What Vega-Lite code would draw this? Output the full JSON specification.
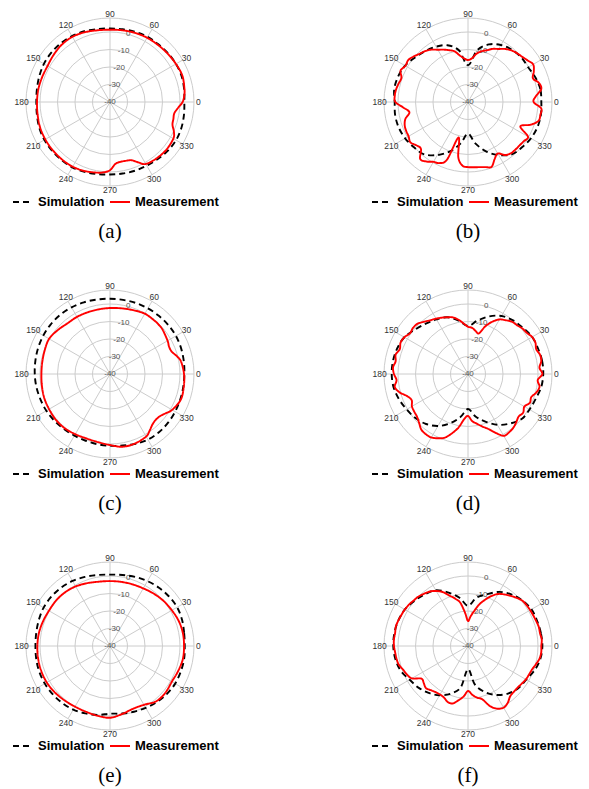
{
"$schema":"https://vega.github.io/schema/vega-lite/v6.json",
"autosize":{"type":"pad"},
"padding":{"left":12,"top":9,"right":2,"bottom":2},
"background":"white",
"config":{
 "view":{"stroke":null},
 "legend":{"labelFont":"Liberation Sans","labelFontSize":13,"labelFontWeight":"bold","labelColor":"#000","symbolType":"stroke","symbolSize":400,"symbolStrokeWidth":2,"columnPadding":1,"labelOffset":4,"padding":0},
 "title":{"orient":"bottom","frame":"group","anchor":"middle","font":"Liberation Serif","fontSize":21,"fontWeight":"normal","color":"#000","offset":12}
},
"datasets":{
 "rings":[{"g":-30},{"g":-20},{"g":-10},{"g":0},{"g":8}],
 "rl":[{"g":-40},{"g":-30},{"g":-20},{"g":-10},{"g":0}],
 "spokes":[{"a":0},{"a":30},{"a":60},{"a":90},{"a":120},{"a":150},{"a":180},{"a":210},{"a":240},{"a":270},{"a":300},{"a":330}],
 "pa":[{"a":0,"S":2.5,"M":1.5},{"a":5,"M":2.6},{"a":10,"S":3,"M":3.2},{"a":20,"S":3.5,"M":4},{"a":30,"S":3.5,"M":3.5},{"a":40,"S":3.3,"M":3},{"a":50,"S":3,"M":2.6},{"a":60,"S":3,"M":2.4},{"a":70,"S":2.6,"M":2},{"a":80,"S":2.2,"M":1.6},{"a":90,"S":2,"M":1.3},{"a":100,"S":2.3,"M":1.6},{"a":110,"S":3,"M":2.4},{"a":120,"S":3.5,"M":3},{"a":130,"S":3.8,"M":2.8},{"a":140,"S":3.8,"M":2},{"a":150,"S":3.6,"M":1.2},{"a":160,"S":3,"M":1.3},{"a":170,"S":2.4,"M":1.6},{"a":180,"S":2.1,"M":1.7},{"a":190,"S":2.4,"M":2},{"a":200,"S":3,"M":2.5},{"a":210,"S":3.3,"M":2.7},{"a":220,"S":3.3,"M":2.8},{"a":230,"S":3.2,"M":2.8},{"a":240,"S":3.1,"M":2.7},{"a":250,"S":2.5,"M":2},{"a":260,"S":1.8,"M":1},{"a":265,"M":0.3},{"a":270,"S":1.4,"M":-1},{"a":275,"M":-4.5},{"a":280,"S":1.5,"M":-5.3},{"a":285,"M":-5.2},{"a":290,"S":1.8,"M":-4.6},{"a":295,"M":-2},{"a":300,"S":2,"M":0.9},{"a":310,"S":2.5,"M":1.8},{"a":320,"S":3.2,"M":2.2},{"a":330,"S":3.6,"M":1.8},{"a":335,"M":0.3},{"a":340,"S":3.4,"M":-2},{"a":345,"M":-2.5},{"a":350,"S":2.9,"M":-2.7},{"a":355,"M":-1}],
 "pb":[{"a":0,"S":1.9,"M":-2.5},{"a":5,"M":-1},{"a":10,"S":2,"M":2.5},{"a":15,"M":2},{"a":20,"S":1,"M":-0.5},{"a":25,"M":1.5},{"a":30,"S":-0.3,"M":3},{"a":35,"M":1.5},{"a":40,"S":-0.3,"M":0.3},{"a":45,"M":-0.5},{"a":50,"S":-1,"M":-1.5},{"a":55,"M":-3},{"a":60,"S":-2.4,"M":-5},{"a":65,"M":-6.5},{"a":70,"S":-5,"M":-8.5},{"a":75,"M":-10},{"a":80,"S":-10,"M":-12},{"a":85,"M":-15},{"a":90,"S":-19,"M":-16},{"a":95,"M":-15},{"a":100,"S":-10,"M":-13},{"a":105,"M":-10},{"a":110,"S":-5.5,"M":-8.5},{"a":115,"M":-7},{"a":120,"S":-3.5,"M":-5.5},{"a":125,"M":-3.5},{"a":130,"S":-2,"M":-2},{"a":135,"M":-1},{"a":140,"S":-0.5,"M":0.5},{"a":145,"M":1.7},{"a":150,"S":1.5,"M":1.3},{"a":155,"M":2.5},{"a":160,"S":2.5,"M":0.5},{"a":165,"M":1},{"a":170,"S":2.8,"M":1.7},{"a":175,"M":2},{"a":180,"S":1.9,"M":1.5},{"a":185,"M":-3},{"a":190,"S":2.3,"M":-6},{"a":195,"M":-3},{"a":200,"S":2.2,"M":-1.5},{"a":205,"M":-1},{"a":210,"S":1.5,"M":-0.8},{"a":215,"M":0.2},{"a":220,"S":0.3,"M":-1.5},{"a":225,"M":-2},{"a":230,"S":-1,"M":2.5},{"a":235,"M":1.5},{"a":240,"S":-5,"M":-0.5},{"a":245,"M":-1.5},{"a":250,"S":-10,"M":-5},{"a":255,"M":-19},{"a":260,"S":-16,"M":-8},{"a":265,"M":-3.5},{"a":270,"S":-22,"M":-2.8},{"a":275,"M":-2.6},{"a":280,"S":-16,"M":-2.2},{"a":285,"M":-1.5},{"a":290,"S":-10,"M":-0.6},{"a":295,"M":-4},{"a":300,"S":-5,"M":-6},{"a":305,"M":-3},{"a":310,"S":-1,"M":-1.8},{"a":315,"M":-1.6},{"a":320,"S":0.3,"M":-1.5},{"a":325,"M":-1},{"a":330,"S":1.5,"M":-0.4},{"a":335,"M":-7},{"a":340,"S":2.2,"M":-2},{"a":345,"M":1.7},{"a":350,"S":2.3,"M":2},{"a":355,"M":2}],
 "pc":[{"a":0,"S":2.5,"M":2.3},{"a":10,"S":2.8,"M":1.2},{"a":15,"M":-0.5},{"a":20,"S":3.2,"M":-2.5},{"a":25,"M":-2.8},{"a":30,"S":3.5,"M":-2},{"a":40,"S":3.5,"M":-0.7},{"a":45,"M":-0.4},{"a":50,"S":3.4,"M":-0.3},{"a":60,"S":3.3,"M":-0.2},{"a":70,"S":3.2,"M":-1.2},{"a":80,"S":3,"M":-1.9},{"a":90,"S":3,"M":-2.3},{"a":100,"S":3.2,"M":-2.5},{"a":110,"S":3.6,"M":-2.5},{"a":120,"S":4,"M":-2.3},{"a":130,"S":4.2,"M":-2.2},{"a":140,"S":4.2,"M":-1},{"a":150,"S":4,"M":0.2},{"a":160,"S":3.7,"M":-0.3},{"a":170,"S":3.3,"M":-0.7},{"a":180,"S":3,"M":-0.8},{"a":190,"S":2.7,"M":-0.5},{"a":200,"S":2.3,"M":0},{"a":210,"S":2,"M":0.2},{"a":220,"S":1.5,"M":0.5},{"a":230,"S":1,"M":0.4},{"a":240,"S":0.7,"M":-0.3},{"a":250,"S":0.6,"M":-0.8},{"a":260,"S":0.8,"M":-0.5},{"a":270,"S":1,"M":0.6},{"a":280,"S":1.5,"M":2.2},{"a":290,"S":2.5,"M":2.2},{"a":300,"S":3.3,"M":1.3},{"a":305,"M":-0.5},{"a":310,"S":3.5,"M":-2.3},{"a":315,"M":-3},{"a":320,"S":3.3,"M":-2.6},{"a":325,"M":-1},{"a":330,"S":3,"M":1},{"a":340,"S":2.7,"M":3},{"a":350,"S":2.5,"M":2.8}],
 "pd":[{"a":0,"S":3,"M":2.5},{"a":5,"M":1},{"a":10,"S":3,"M":2.5},{"a":15,"M":2.6},{"a":20,"S":2.6,"M":1.5},{"a":25,"M":2.5},{"a":30,"S":2.3,"M":2.3},{"a":35,"M":1},{"a":40,"S":1,"M":0.5},{"a":45,"M":-0.5},{"a":50,"S":0,"M":-1},{"a":55,"M":-2.5},{"a":60,"S":-1.7,"M":-4},{"a":65,"M":-7},{"a":70,"S":-5,"M":-11},{"a":75,"M":-16},{"a":80,"S":-9,"M":-15},{"a":85,"M":-13.5},{"a":90,"S":-12.5,"M":-13},{"a":95,"M":-11},{"a":100,"S":-9,"M":-8.5},{"a":105,"M":-6.5},{"a":110,"S":-5.5,"M":-5.5},{"a":115,"M":-4.5},{"a":120,"S":-4,"M":-3.5},{"a":125,"M":-2.5},{"a":130,"S":-2.5,"M":-1},{"a":135,"M":0.7},{"a":140,"S":-0.5,"M":1},{"a":145,"M":0.5},{"a":150,"S":2,"M":2},{"a":155,"M":2.5},{"a":160,"S":3,"M":1.5},{"a":165,"M":2.8},{"a":170,"S":3.5,"M":2},{"a":175,"M":3},{"a":180,"S":3.6,"M":2.3},{"a":185,"M":1},{"a":190,"S":3.2,"M":2.5},{"a":195,"M":0.5},{"a":200,"S":2,"M":-3},{"a":205,"M":-4.5},{"a":210,"S":0.5,"M":-3},{"a":215,"M":-2.5},{"a":220,"S":-0.8,"M":-2},{"a":225,"M":-0.5},{"a":230,"S":-2.7,"M":1.5},{"a":235,"M":2},{"a":240,"S":-5.7,"M":1.9},{"a":245,"M":0.5},{"a":250,"S":-10,"M":-1.3},{"a":255,"M":-5},{"a":260,"S":-15,"M":-9},{"a":265,"M":-14},{"a":270,"S":-20,"M":-16},{"a":275,"M":-13},{"a":280,"S":-15.4,"M":-11.2},{"a":285,"M":-9},{"a":290,"S":-11,"M":-6.7},{"a":295,"M":-3},{"a":300,"S":-6.5,"M":0.8},{"a":305,"M":0.8},{"a":310,"S":-3,"M":0.2},{"a":315,"M":-1},{"a":320,"S":0,"M":-2.2},{"a":325,"M":-1.5},{"a":330,"S":0.6,"M":-2.8},{"a":335,"M":-1},{"a":340,"S":1.2,"M":-1.5},{"a":345,"M":0.5},{"a":350,"S":2.5,"M":1.5},{"a":355,"M":0}],
 "pe":[{"a":0,"S":2.7,"M":2.3},{"a":10,"S":3,"M":2.3},{"a":20,"S":3.8,"M":1.8},{"a":30,"S":4.3,"M":0.8},{"a":40,"S":4,"M":0},{"a":50,"S":3.5,"M":-1},{"a":60,"S":2.8,"M":-2},{"a":70,"S":2,"M":-2.5},{"a":80,"S":1.2,"M":-2.8},{"a":90,"S":0.8,"M":-2.9},{"a":100,"S":1.2,"M":-2.7},{"a":110,"S":2,"M":-1.8},{"a":120,"S":2.9,"M":-0.7},{"a":130,"S":3.5,"M":0},{"a":140,"S":3.8,"M":0.3},{"a":150,"S":3.8,"M":0.3},{"a":160,"S":3.3,"M":0.8},{"a":170,"S":2.8,"M":1.3},{"a":180,"S":2.6,"M":1.5},{"a":190,"S":2.8,"M":1.7},{"a":200,"S":3,"M":1.8},{"a":210,"S":3,"M":1.7},{"a":220,"S":2.8,"M":1.2},{"a":230,"S":2.5,"M":0.5},{"a":240,"S":2,"M":0},{"a":250,"S":1,"M":0},{"a":260,"S":0,"M":0.5},{"a":270,"S":-1.3,"M":1},{"a":280,"S":-0.8,"M":-0.5},{"a":290,"S":0,"M":-1.8},{"a":300,"S":0.8,"M":-1.2},{"a":310,"S":1.8,"M":1.2},{"a":320,"S":2.5,"M":1.4},{"a":330,"S":3,"M":0.8},{"a":340,"S":3,"M":1.5},{"a":350,"S":3,"M":2.3}],
 "pf":[{"a":0,"S":2.5,"M":1.9},{"a":5,"M":2.3},{"a":10,"S":2.3,"M":1.8},{"a":15,"M":1.9},{"a":20,"S":2,"M":1.5},{"a":25,"M":1.2},{"a":30,"S":1.9,"M":1},{"a":35,"M":0.8},{"a":40,"S":0.5,"M":0.4},{"a":45,"M":-1},{"a":50,"S":-1.5,"M":-2.5},{"a":55,"M":-4},{"a":60,"S":-4.3,"M":-5.7},{"a":65,"M":-8.5},{"a":70,"S":-8.5,"M":-12},{"a":75,"M":-15.5},{"a":80,"S":-12,"M":-19.7},{"a":85,"M":-23},{"a":90,"S":-17,"M":-25.7},{"a":95,"M":-21},{"a":100,"S":-12,"M":-15},{"a":105,"M":-12},{"a":110,"S":-7.5,"M":-9.4},{"a":115,"M":-6},{"a":120,"S":-3.2,"M":-3.7},{"a":125,"M":-2},{"a":130,"S":-1.5,"M":-1},{"a":135,"M":0},{"a":140,"S":0,"M":0.5},{"a":145,"M":1.2},{"a":150,"S":1.7,"M":1.7},{"a":155,"M":2},{"a":160,"S":2.4,"M":2.4},{"a":165,"M":2.7},{"a":170,"S":2.7,"M":2.3},{"a":175,"M":2.5},{"a":180,"S":2.7,"M":2.3},{"a":185,"M":1.8},{"a":190,"S":2.2,"M":1.5},{"a":195,"M":1},{"a":200,"S":1,"M":-0.5},{"a":205,"M":-1.5},{"a":210,"S":-1.5,"M":-3},{"a":215,"M":-7.5},{"a":220,"S":-3,"M":-7},{"a":225,"M":-6},{"a":230,"S":-5,"M":-7},{"a":235,"M":-7.8},{"a":240,"S":-7.5,"M":-8},{"a":245,"M":-7.5},{"a":250,"S":-11,"M":-6},{"a":255,"M":-6},{"a":260,"S":-16,"M":-8.5},{"a":265,"M":-11},{"a":270,"S":-26.7,"M":-14.3},{"a":275,"M":-12},{"a":280,"S":-17.7,"M":-10},{"a":285,"M":-8.5},{"a":290,"S":-12,"M":-3.5},{"a":295,"M":-0.5},{"a":300,"S":-7.7,"M":0.7},{"a":305,"M":-0.4},{"a":310,"S":-4.5,"M":-2.5},{"a":315,"M":-3},{"a":320,"S":-2.5,"M":-3},{"a":325,"M":-2.5},{"a":330,"S":-1.6,"M":-1.8},{"a":335,"M":-1.5},{"a":340,"S":0.5,"M":-1},{"a":345,"M":0.2},{"a":350,"S":2,"M":1.5},{"a":355,"M":2}]
},
"columns":2,
"spacing":{"row":104,"column":190},
"bounds":"flush",
"resolve":{"scale":{"x":"independent","y":"independent","size":"independent","color":"independent","strokeDash":"independent"},"legend":{"color":"independent","strokeDash":"independent"}},
"concat":[
 {"width":168,"height":168,"title":{"text":"(a)"},"layer":[
  {"data":{"name":"rings"},"transform":[{"calculate":"datum.g+40","as":"rr"},{"calculate":"0","as":"z"}],"mark":{"type":"point","shape":"circle","filled":false,"color":"#cccccc","opacity":1,"strokeWidth":1},"encoding":{"x":{"field":"z","type":"quantitative","scale":{"domain":[-48,48],"nice":false},"axis":null},"y":{"field":"z","type":"quantitative","scale":{"domain":[-48,48],"nice":false},"axis":null},"size":{"field":"rr","type":"quantitative","scale":{"type":"pow","exponent":2,"domain":[0,48],"range":[0,28224]},"legend":null}}},
  {"data":{"name":"spokes"},"transform":[{"calculate":"48*cos(datum.a*PI/180)","as":"ex"},{"calculate":"48*sin(datum.a*PI/180)","as":"ey"},{"calculate":"0","as":"z"}],"mark":{"type":"rule","color":"#cccccc","strokeWidth":1},"encoding":{"x":{"field":"z","type":"quantitative","scale":{"domain":[-48,48],"nice":false},"axis":null},"y":{"field":"z","type":"quantitative","scale":{"domain":[-48,48],"nice":false},"axis":null},"x2":{"field":"ex"},"y2":{"field":"ey"}}},
  {"data":{"name":"spokes"},"transform":[{"calculate":"50.5*cos(datum.a*PI/180)","as":"lx"},{"calculate":"50.5*sin(datum.a*PI/180)","as":"ly"}],"mark":{"type":"text","font":"Liberation Sans","fontSize":8.5,"color":"#333"},"encoding":{"x":{"field":"lx","type":"quantitative","scale":{"domain":[-48,48],"nice":false},"axis":null},"y":{"field":"ly","type":"quantitative","scale":{"domain":[-48,48],"nice":false},"axis":null},"text":{"field":"a","type":"nominal"}}},
  {"data":{"name":"rl"},"transform":[{"calculate":"(datum.g+40)*cos(75*PI/180)","as":"px"},{"calculate":"(datum.g+40)*sin(75*PI/180)","as":"py"}],"mark":{"type":"text","font":"Liberation Sans","fontSize":8,"color":"#555"},"encoding":{"x":{"field":"px","type":"quantitative","scale":{"domain":[-48,48],"nice":false},"axis":null},"y":{"field":"py","type":"quantitative","scale":{"domain":[-48,48],"nice":false},"axis":null},"text":{"field":"g","type":"nominal"}}},
  {"data":{"name":"pa"},"transform":[{"fold":["S","M"],"as":["s","r"]},{"filter":"isValid(datum.r)"},{"calculate":"(datum.r+40)*cos(datum.a*PI/180)","as":"x"},{"calculate":"(datum.r+40)*sin(datum.a*PI/180)","as":"y"}],"mark":{"type":"line","interpolate":"cardinal-closed","strokeWidth":1.9},"encoding":{"x":{"field":"x","type":"quantitative","scale":{"domain":[-48,48],"nice":false},"axis":null},"y":{"field":"y","type":"quantitative","scale":{"domain":[-48,48],"nice":false},"axis":null},"order":{"field":"a","type":"quantitative"},"color":{"field":"s","type":"nominal","scale":{"domain":["S","M"],"range":["#000000","#ff0000"]},"legend":{"title":null,"orient":"none","legendX":-14,"legendY":173,"direction":"horizontal","labelExpr":"datum.label=='S'?'Simulation':'Measurement'"}},"strokeDash":{"field":"s","type":"nominal","scale":{"domain":["S","M"],"range":[[6,4],[1,0]]},"legend":{"title":null,"orient":"none","legendX":-14,"legendY":173,"direction":"horizontal","labelExpr":"datum.label=='S'?'Simulation':'Measurement'"}}}}
 ]},
 {"width":168,"height":168,"title":{"text":"(b)"},"layer":[
  {"data":{"name":"rings"},"transform":[{"calculate":"datum.g+40","as":"rr"},{"calculate":"0","as":"z"}],"mark":{"type":"point","shape":"circle","filled":false,"color":"#cccccc","opacity":1,"strokeWidth":1},"encoding":{"x":{"field":"z","type":"quantitative","scale":{"domain":[-48,48],"nice":false},"axis":null},"y":{"field":"z","type":"quantitative","scale":{"domain":[-48,48],"nice":false},"axis":null},"size":{"field":"rr","type":"quantitative","scale":{"type":"pow","exponent":2,"domain":[0,48],"range":[0,28224]},"legend":null}}},
  {"data":{"name":"spokes"},"transform":[{"calculate":"48*cos(datum.a*PI/180)","as":"ex"},{"calculate":"48*sin(datum.a*PI/180)","as":"ey"},{"calculate":"0","as":"z"}],"mark":{"type":"rule","color":"#cccccc","strokeWidth":1},"encoding":{"x":{"field":"z","type":"quantitative","scale":{"domain":[-48,48],"nice":false},"axis":null},"y":{"field":"z","type":"quantitative","scale":{"domain":[-48,48],"nice":false},"axis":null},"x2":{"field":"ex"},"y2":{"field":"ey"}}},
  {"data":{"name":"spokes"},"transform":[{"calculate":"50.5*cos(datum.a*PI/180)","as":"lx"},{"calculate":"50.5*sin(datum.a*PI/180)","as":"ly"}],"mark":{"type":"text","font":"Liberation Sans","fontSize":8.5,"color":"#333"},"encoding":{"x":{"field":"lx","type":"quantitative","scale":{"domain":[-48,48],"nice":false},"axis":null},"y":{"field":"ly","type":"quantitative","scale":{"domain":[-48,48],"nice":false},"axis":null},"text":{"field":"a","type":"nominal"}}},
  {"data":{"name":"rl"},"transform":[{"calculate":"(datum.g+40)*cos(75*PI/180)","as":"px"},{"calculate":"(datum.g+40)*sin(75*PI/180)","as":"py"}],"mark":{"type":"text","font":"Liberation Sans","fontSize":8,"color":"#555"},"encoding":{"x":{"field":"px","type":"quantitative","scale":{"domain":[-48,48],"nice":false},"axis":null},"y":{"field":"py","type":"quantitative","scale":{"domain":[-48,48],"nice":false},"axis":null},"text":{"field":"g","type":"nominal"}}},
  {"data":{"name":"pb"},"transform":[{"fold":["S","M"],"as":["s","r"]},{"filter":"isValid(datum.r)"},{"calculate":"(datum.r+40)*cos(datum.a*PI/180)","as":"x"},{"calculate":"(datum.r+40)*sin(datum.a*PI/180)","as":"y"}],"mark":{"type":"line","interpolate":"cardinal-closed","strokeWidth":1.9},"encoding":{"x":{"field":"x","type":"quantitative","scale":{"domain":[-48,48],"nice":false},"axis":null},"y":{"field":"y","type":"quantitative","scale":{"domain":[-48,48],"nice":false},"axis":null},"order":{"field":"a","type":"quantitative"},"color":{"field":"s","type":"nominal","scale":{"domain":["S","M"],"range":["#000000","#ff0000"]},"legend":{"title":null,"orient":"none","legendX":-13,"legendY":173,"direction":"horizontal","labelExpr":"datum.label=='S'?'Simulation':'Measurement'"}},"strokeDash":{"field":"s","type":"nominal","scale":{"domain":["S","M"],"range":[[6,4],[1,0]]},"legend":{"title":null,"orient":"none","legendX":-13,"legendY":173,"direction":"horizontal","labelExpr":"datum.label=='S'?'Simulation':'Measurement'"}}}}
 ]},
 {"width":168,"height":168,"title":{"text":"(c)"},"layer":[
  {"data":{"name":"rings"},"transform":[{"calculate":"datum.g+40","as":"rr"},{"calculate":"0","as":"z"}],"mark":{"type":"point","shape":"circle","filled":false,"color":"#cccccc","opacity":1,"strokeWidth":1},"encoding":{"x":{"field":"z","type":"quantitative","scale":{"domain":[-48,48],"nice":false},"axis":null},"y":{"field":"z","type":"quantitative","scale":{"domain":[-48,48],"nice":false},"axis":null},"size":{"field":"rr","type":"quantitative","scale":{"type":"pow","exponent":2,"domain":[0,48],"range":[0,28224]},"legend":null}}},
  {"data":{"name":"spokes"},"transform":[{"calculate":"48*cos(datum.a*PI/180)","as":"ex"},{"calculate":"48*sin(datum.a*PI/180)","as":"ey"},{"calculate":"0","as":"z"}],"mark":{"type":"rule","color":"#cccccc","strokeWidth":1},"encoding":{"x":{"field":"z","type":"quantitative","scale":{"domain":[-48,48],"nice":false},"axis":null},"y":{"field":"z","type":"quantitative","scale":{"domain":[-48,48],"nice":false},"axis":null},"x2":{"field":"ex"},"y2":{"field":"ey"}}},
  {"data":{"name":"spokes"},"transform":[{"calculate":"50.5*cos(datum.a*PI/180)","as":"lx"},{"calculate":"50.5*sin(datum.a*PI/180)","as":"ly"}],"mark":{"type":"text","font":"Liberation Sans","fontSize":8.5,"color":"#333"},"encoding":{"x":{"field":"lx","type":"quantitative","scale":{"domain":[-48,48],"nice":false},"axis":null},"y":{"field":"ly","type":"quantitative","scale":{"domain":[-48,48],"nice":false},"axis":null},"text":{"field":"a","type":"nominal"}}},
  {"data":{"name":"rl"},"transform":[{"calculate":"(datum.g+40)*cos(75*PI/180)","as":"px"},{"calculate":"(datum.g+40)*sin(75*PI/180)","as":"py"}],"mark":{"type":"text","font":"Liberation Sans","fontSize":8,"color":"#555"},"encoding":{"x":{"field":"px","type":"quantitative","scale":{"domain":[-48,48],"nice":false},"axis":null},"y":{"field":"py","type":"quantitative","scale":{"domain":[-48,48],"nice":false},"axis":null},"text":{"field":"g","type":"nominal"}}},
  {"data":{"name":"pc"},"transform":[{"fold":["S","M"],"as":["s","r"]},{"filter":"isValid(datum.r)"},{"calculate":"(datum.r+40)*cos(datum.a*PI/180)","as":"x"},{"calculate":"(datum.r+40)*sin(datum.a*PI/180)","as":"y"}],"mark":{"type":"line","interpolate":"cardinal-closed","strokeWidth":1.9},"encoding":{"x":{"field":"x","type":"quantitative","scale":{"domain":[-48,48],"nice":false},"axis":null},"y":{"field":"y","type":"quantitative","scale":{"domain":[-48,48],"nice":false},"axis":null},"order":{"field":"a","type":"quantitative"},"color":{"field":"s","type":"nominal","scale":{"domain":["S","M"],"range":["#000000","#ff0000"]},"legend":{"title":null,"orient":"none","legendX":-14,"legendY":173,"direction":"horizontal","labelExpr":"datum.label=='S'?'Simulation':'Measurement'"}},"strokeDash":{"field":"s","type":"nominal","scale":{"domain":["S","M"],"range":[[6,4],[1,0]]},"legend":{"title":null,"orient":"none","legendX":-14,"legendY":173,"direction":"horizontal","labelExpr":"datum.label=='S'?'Simulation':'Measurement'"}}}}
 ]},
 {"width":168,"height":168,"title":{"text":"(d)"},"layer":[
  {"data":{"name":"rings"},"transform":[{"calculate":"datum.g+40","as":"rr"},{"calculate":"0","as":"z"}],"mark":{"type":"point","shape":"circle","filled":false,"color":"#cccccc","opacity":1,"strokeWidth":1},"encoding":{"x":{"field":"z","type":"quantitative","scale":{"domain":[-48,48],"nice":false},"axis":null},"y":{"field":"z","type":"quantitative","scale":{"domain":[-48,48],"nice":false},"axis":null},"size":{"field":"rr","type":"quantitative","scale":{"type":"pow","exponent":2,"domain":[0,48],"range":[0,28224]},"legend":null}}},
  {"data":{"name":"spokes"},"transform":[{"calculate":"48*cos(datum.a*PI/180)","as":"ex"},{"calculate":"48*sin(datum.a*PI/180)","as":"ey"},{"calculate":"0","as":"z"}],"mark":{"type":"rule","color":"#cccccc","strokeWidth":1},"encoding":{"x":{"field":"z","type":"quantitative","scale":{"domain":[-48,48],"nice":false},"axis":null},"y":{"field":"z","type":"quantitative","scale":{"domain":[-48,48],"nice":false},"axis":null},"x2":{"field":"ex"},"y2":{"field":"ey"}}},
  {"data":{"name":"spokes"},"transform":[{"calculate":"50.5*cos(datum.a*PI/180)","as":"lx"},{"calculate":"50.5*sin(datum.a*PI/180)","as":"ly"}],"mark":{"type":"text","font":"Liberation Sans","fontSize":8.5,"color":"#333"},"encoding":{"x":{"field":"lx","type":"quantitative","scale":{"domain":[-48,48],"nice":false},"axis":null},"y":{"field":"ly","type":"quantitative","scale":{"domain":[-48,48],"nice":false},"axis":null},"text":{"field":"a","type":"nominal"}}},
  {"data":{"name":"rl"},"transform":[{"calculate":"(datum.g+40)*cos(75*PI/180)","as":"px"},{"calculate":"(datum.g+40)*sin(75*PI/180)","as":"py"}],"mark":{"type":"text","font":"Liberation Sans","fontSize":8,"color":"#555"},"encoding":{"x":{"field":"px","type":"quantitative","scale":{"domain":[-48,48],"nice":false},"axis":null},"y":{"field":"py","type":"quantitative","scale":{"domain":[-48,48],"nice":false},"axis":null},"text":{"field":"g","type":"nominal"}}},
  {"data":{"name":"pd"},"transform":[{"fold":["S","M"],"as":["s","r"]},{"filter":"isValid(datum.r)"},{"calculate":"(datum.r+40)*cos(datum.a*PI/180)","as":"x"},{"calculate":"(datum.r+40)*sin(datum.a*PI/180)","as":"y"}],"mark":{"type":"line","interpolate":"cardinal-closed","strokeWidth":1.9},"encoding":{"x":{"field":"x","type":"quantitative","scale":{"domain":[-48,48],"nice":false},"axis":null},"y":{"field":"y","type":"quantitative","scale":{"domain":[-48,48],"nice":false},"axis":null},"order":{"field":"a","type":"quantitative"},"color":{"field":"s","type":"nominal","scale":{"domain":["S","M"],"range":["#000000","#ff0000"]},"legend":{"title":null,"orient":"none","legendX":-13,"legendY":173,"direction":"horizontal","labelExpr":"datum.label=='S'?'Simulation':'Measurement'"}},"strokeDash":{"field":"s","type":"nominal","scale":{"domain":["S","M"],"range":[[6,4],[1,0]]},"legend":{"title":null,"orient":"none","legendX":-13,"legendY":173,"direction":"horizontal","labelExpr":"datum.label=='S'?'Simulation':'Measurement'"}}}}
 ]},
 {"width":168,"height":168,"title":{"text":"(e)"},"layer":[
  {"data":{"name":"rings"},"transform":[{"calculate":"datum.g+40","as":"rr"},{"calculate":"0","as":"z"}],"mark":{"type":"point","shape":"circle","filled":false,"color":"#cccccc","opacity":1,"strokeWidth":1},"encoding":{"x":{"field":"z","type":"quantitative","scale":{"domain":[-48,48],"nice":false},"axis":null},"y":{"field":"z","type":"quantitative","scale":{"domain":[-48,48],"nice":false},"axis":null},"size":{"field":"rr","type":"quantitative","scale":{"type":"pow","exponent":2,"domain":[0,48],"range":[0,28224]},"legend":null}}},
  {"data":{"name":"spokes"},"transform":[{"calculate":"48*cos(datum.a*PI/180)","as":"ex"},{"calculate":"48*sin(datum.a*PI/180)","as":"ey"},{"calculate":"0","as":"z"}],"mark":{"type":"rule","color":"#cccccc","strokeWidth":1},"encoding":{"x":{"field":"z","type":"quantitative","scale":{"domain":[-48,48],"nice":false},"axis":null},"y":{"field":"z","type":"quantitative","scale":{"domain":[-48,48],"nice":false},"axis":null},"x2":{"field":"ex"},"y2":{"field":"ey"}}},
  {"data":{"name":"spokes"},"transform":[{"calculate":"50.5*cos(datum.a*PI/180)","as":"lx"},{"calculate":"50.5*sin(datum.a*PI/180)","as":"ly"}],"mark":{"type":"text","font":"Liberation Sans","fontSize":8.5,"color":"#333"},"encoding":{"x":{"field":"lx","type":"quantitative","scale":{"domain":[-48,48],"nice":false},"axis":null},"y":{"field":"ly","type":"quantitative","scale":{"domain":[-48,48],"nice":false},"axis":null},"text":{"field":"a","type":"nominal"}}},
  {"data":{"name":"rl"},"transform":[{"calculate":"(datum.g+40)*cos(75*PI/180)","as":"px"},{"calculate":"(datum.g+40)*sin(75*PI/180)","as":"py"}],"mark":{"type":"text","font":"Liberation Sans","fontSize":8,"color":"#555"},"encoding":{"x":{"field":"px","type":"quantitative","scale":{"domain":[-48,48],"nice":false},"axis":null},"y":{"field":"py","type":"quantitative","scale":{"domain":[-48,48],"nice":false},"axis":null},"text":{"field":"g","type":"nominal"}}},
  {"data":{"name":"pe"},"transform":[{"fold":["S","M"],"as":["s","r"]},{"filter":"isValid(datum.r)"},{"calculate":"(datum.r+40)*cos(datum.a*PI/180)","as":"x"},{"calculate":"(datum.r+40)*sin(datum.a*PI/180)","as":"y"}],"mark":{"type":"line","interpolate":"cardinal-closed","strokeWidth":1.9},"encoding":{"x":{"field":"x","type":"quantitative","scale":{"domain":[-48,48],"nice":false},"axis":null},"y":{"field":"y","type":"quantitative","scale":{"domain":[-48,48],"nice":false},"axis":null},"order":{"field":"a","type":"quantitative"},"color":{"field":"s","type":"nominal","scale":{"domain":["S","M"],"range":["#000000","#ff0000"]},"legend":{"title":null,"orient":"none","legendX":-14,"legendY":173,"direction":"horizontal","labelExpr":"datum.label=='S'?'Simulation':'Measurement'"}},"strokeDash":{"field":"s","type":"nominal","scale":{"domain":["S","M"],"range":[[6,4],[1,0]]},"legend":{"title":null,"orient":"none","legendX":-14,"legendY":173,"direction":"horizontal","labelExpr":"datum.label=='S'?'Simulation':'Measurement'"}}}}
 ]},
 {"width":168,"height":168,"title":{"text":"(f)"},"layer":[
  {"data":{"name":"rings"},"transform":[{"calculate":"datum.g+40","as":"rr"},{"calculate":"0","as":"z"}],"mark":{"type":"point","shape":"circle","filled":false,"color":"#cccccc","opacity":1,"strokeWidth":1},"encoding":{"x":{"field":"z","type":"quantitative","scale":{"domain":[-48,48],"nice":false},"axis":null},"y":{"field":"z","type":"quantitative","scale":{"domain":[-48,48],"nice":false},"axis":null},"size":{"field":"rr","type":"quantitative","scale":{"type":"pow","exponent":2,"domain":[0,48],"range":[0,28224]},"legend":null}}},
  {"data":{"name":"spokes"},"transform":[{"calculate":"48*cos(datum.a*PI/180)","as":"ex"},{"calculate":"48*sin(datum.a*PI/180)","as":"ey"},{"calculate":"0","as":"z"}],"mark":{"type":"rule","color":"#cccccc","strokeWidth":1},"encoding":{"x":{"field":"z","type":"quantitative","scale":{"domain":[-48,48],"nice":false},"axis":null},"y":{"field":"z","type":"quantitative","scale":{"domain":[-48,48],"nice":false},"axis":null},"x2":{"field":"ex"},"y2":{"field":"ey"}}},
  {"data":{"name":"spokes"},"transform":[{"calculate":"50.5*cos(datum.a*PI/180)","as":"lx"},{"calculate":"50.5*sin(datum.a*PI/180)","as":"ly"}],"mark":{"type":"text","font":"Liberation Sans","fontSize":8.5,"color":"#333"},"encoding":{"x":{"field":"lx","type":"quantitative","scale":{"domain":[-48,48],"nice":false},"axis":null},"y":{"field":"ly","type":"quantitative","scale":{"domain":[-48,48],"nice":false},"axis":null},"text":{"field":"a","type":"nominal"}}},
  {"data":{"name":"rl"},"transform":[{"calculate":"(datum.g+40)*cos(75*PI/180)","as":"px"},{"calculate":"(datum.g+40)*sin(75*PI/180)","as":"py"}],"mark":{"type":"text","font":"Liberation Sans","fontSize":8,"color":"#555"},"encoding":{"x":{"field":"px","type":"quantitative","scale":{"domain":[-48,48],"nice":false},"axis":null},"y":{"field":"py","type":"quantitative","scale":{"domain":[-48,48],"nice":false},"axis":null},"text":{"field":"g","type":"nominal"}}},
  {"data":{"name":"pf"},"transform":[{"fold":["S","M"],"as":["s","r"]},{"filter":"isValid(datum.r)"},{"calculate":"(datum.r+40)*cos(datum.a*PI/180)","as":"x"},{"calculate":"(datum.r+40)*sin(datum.a*PI/180)","as":"y"}],"mark":{"type":"line","interpolate":"cardinal-closed","strokeWidth":1.9},"encoding":{"x":{"field":"x","type":"quantitative","scale":{"domain":[-48,48],"nice":false},"axis":null},"y":{"field":"y","type":"quantitative","scale":{"domain":[-48,48],"nice":false},"axis":null},"order":{"field":"a","type":"quantitative"},"color":{"field":"s","type":"nominal","scale":{"domain":["S","M"],"range":["#000000","#ff0000"]},"legend":{"title":null,"orient":"none","legendX":-13,"legendY":173,"direction":"horizontal","labelExpr":"datum.label=='S'?'Simulation':'Measurement'"}},"strokeDash":{"field":"s","type":"nominal","scale":{"domain":["S","M"],"range":[[6,4],[1,0]]},"legend":{"title":null,"orient":"none","legendX":-13,"legendY":173,"direction":"horizontal","labelExpr":"datum.label=='S'?'Simulation':'Measurement'"}}}}
 ]}
]
}
